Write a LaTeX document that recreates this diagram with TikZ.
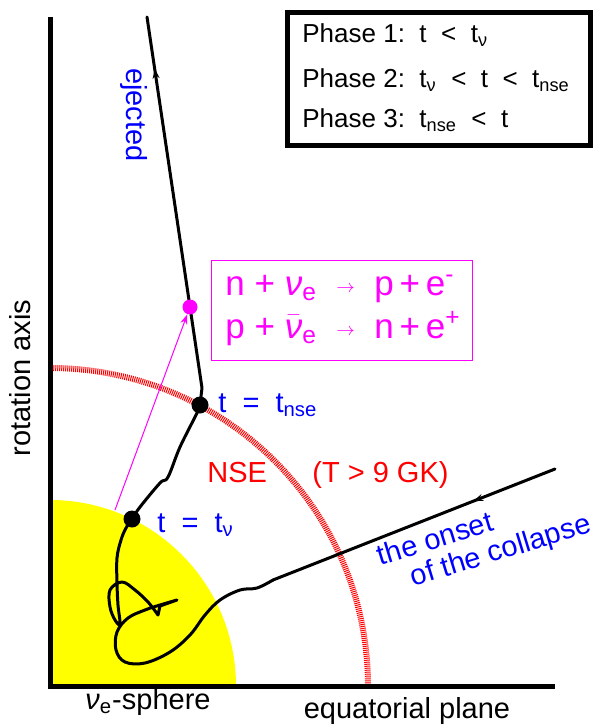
\documentclass[tikz,border=0pt]{standalone}
\usepackage{fontspec}
\setmainfont{Liberation Sans}
\usetikzlibrary{arrows.meta,decorations.markings}
\definecolor{SNblue}{RGB}{0,0,255}
\definecolor{SNred}{RGB}{255,0,0}
\definecolor{SNmag}{RGB}{255,0,255}
\definecolor{SNyel}{RGB}{255,255,0}
\newcommand{\tnu}{t\textsubscript{ν}}
\newcommand{\tnse}{t\textsubscript{nse}}
\newcommand{\lblf}{\fontsize{14.5}{17}\selectfont}
\newcommand{\boxf}{\fontsize{13}{15}\selectfont}
\newcommand{\rxf}{\fontsize{17.5}{21}\selectfont}
\newcommand{\rxarrow}{\raisebox{1.5pt}{\fontsize{9}{9}\selectfont$\rightarrow$}}
\tikzset{
  axisline/.style={line width=2.5pt},
  traj/.style={line width=1.5pt, line cap=round, line join=round},
  nsering/.style={draw=SNred, line width=3pt, dash pattern=on 0.5pt off 0.5pt},
  dot/.style={circle, fill=#1, inner sep=0pt, minimum size=8.5pt},
  lbl/.style={font=\lblf, text=#1, inner sep=0pt},
  boxtxt/.style={font=\boxf, inner sep=0pt},
  phasebox/.style={rectangle, draw, line width=2.5pt, minimum width=151.5pt, minimum height=66.5pt},
  rxbox/.style={rectangle, draw=SNmag, line width=0.5pt, minimum width=130.5pt, minimum height=50pt},
  midarrow/.style={postaction={decorate}, decoration={markings,
      mark=at position #1 with {\arrow{Stealth[length=5pt, width=3.5pt]}}}},
}

\begin{document}
\begin{tikzpicture}[x=0.5pt, y=-0.5pt]
    \useasboundingbox (0,0) rectangle (595,727);

    % nu_e-sphere and NSE boundary
    \begin{scope}
      \clip (50,0) rectangle (595,686);
      \fill[SNyel] (50,686) circle[radius=186];
      \draw[nsering] (50,686) circle[radius=318];
    \end{scope}

    % axes
    \draw[axisline] (50,17) -- (50,686) -- (555,686);

    % points on the trajectory
    \coordinate (onset) at (555,469);
    \coordinate (bend) at (273,580);
    \coordinate (tnu) at (132,519);
    \coordinate (tnse) at (200,405);
    \coordinate (kink) at (202,388);
    \coordinate (top) at (147,17);
    \coordinate (tmag) at (190,307);
    \coordinate (launch) at (115,510);

    % infall
    \draw[traj, midarrow=0.29] (onset) -- (bend);
    % wandering near the nu_e-sphere
    \draw[traj] (bend) -- plot[smooth, tension=0.6] coordinates {(bend) (257,588) (240,590)
        (220,600) (205,615) (190,635) (170,652) (145,663) (125,662) (116,650) (117,632)
        (128,618) (145,610) (160,605) (177,600)}
      -- (160,606) -- plot[smooth, tension=0.6] coordinates {(158,615) (148,602) (135,590)
        (122,582) (110,590) (110,607) (115,620) (120,624) (118,605) (117,583) (117,558)
        (121,540) (126,528) (tnu)};
    % phase 2
    \draw[traj] plot[smooth, tension=0.6] coordinates {(tnu) (140,507) (160,483) (168,477)
        (180,447) (197,413) (tnse)};
    % ejection
    \draw[traj, midarrow=0.867] (tnse) -- (kink) -- (top);

    % marked times
    \node[dot=black] (dnu) at (tnu) {};
    \node[dot=black] (dnse) at (tnse) {};
    \node[dot=SNmag, minimum size=7.5pt] (dmag) at (tmag) {};
    \draw[SNmag, line width=0.5pt, -{Stealth[length=5pt, width=3.5pt]}] (launch) -- (dmag);

    % phases
    \node[phasebox, anchor=north west] (phases) at (285,10) {};
    \node[boxtxt, anchor=base west] (ph1) at (302,43) {Phase 1:\ \ t\ \ <\ \ \tnu};
    \node[boxtxt, anchor=base west] (ph2) at (302,88) {Phase 2:\ \ \tnu\ \ <\ \ t\ \ <\ \ \tnse};
    \node[boxtxt, anchor=base west] (ph3) at (302,128) {Phase 3:\ \ \tnse\ \ <\ \ t};

    % weak reactions
    \node[rxbox, anchor=north west] (rx) at (211,260) {};
    \node[lbl=SNmag, font=\rxf, anchor=base west] (rx1) at (225,295)
          {n + \textit{ν}\textsubscript{e}\ \ \rxarrow\ \ p\,+\,e\textsuperscript{-}};
    \node[lbl=SNmag, font=\rxf, anchor=base west] (rx2) at (225,338)
          {p + $\bar{\mbox{\textit{ν}}}$\textsubscript{e}\ \ \rxarrow\ \ n\,+\,e\textsuperscript{+}};

    % labels
    \node[lbl=SNblue, anchor=base west] (labnu) at (157,532) {t\ \ =\ \ \tnu};
    \node[lbl=SNblue, anchor=base west] (labnse) at (218,412) {t\ \ =\ \ \tnse};
    \node[lbl=SNred, anchor=base west] (nse) at (207,482) {NSE};
    \node[lbl=SNred, anchor=base west] (temp) at (312,482) {(T > 9 GK)};
    \node[lbl=SNblue, rotate=-90] (eject) at (134,115) {ejected};
    \node[lbl=SNblue, rotate=17] (onset1) at (435,538) {the onset};
    \node[lbl=SNblue, rotate=17] (onset2) at (501,552) {of the collapse};
    \node[lbl=black, rotate=90] (raxis) at (20,378) {rotation axis};
    \node[lbl=black] (sphere) at (148,702) {\textit{ν}\textsubscript{e}-sphere};
    \node[lbl=black] (eqpl) at (407,711) {equatorial plane};
  \end{tikzpicture}
\end{document}
